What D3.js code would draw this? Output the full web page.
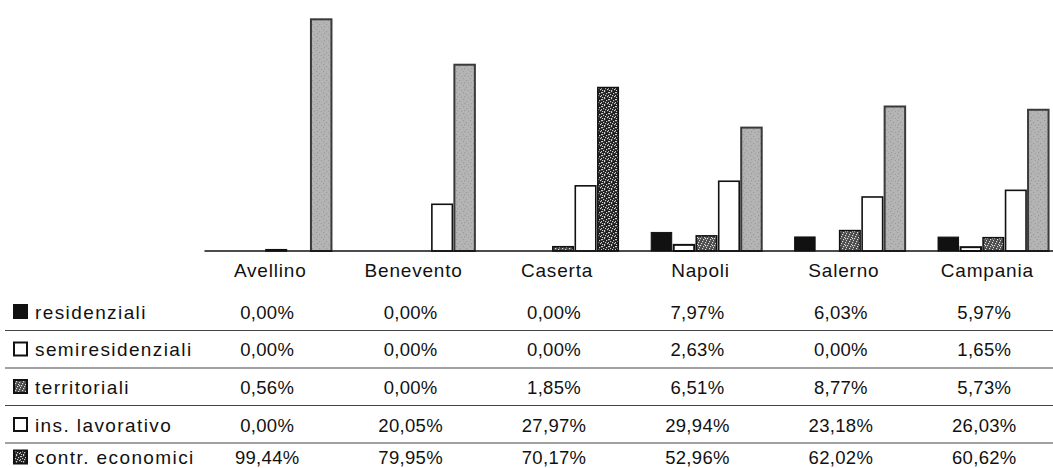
<!DOCTYPE html>
<html>
<head>
<meta charset="utf-8">
<script src="https://cdn.jsdelivr.net/npm/d3@7"></script>
<style>
  html, body { margin: 0; padding: 0; background: #fff; }
  svg { display: block; }
  text { font-family: "Liberation Sans", Arial, Helvetica, sans-serif; fill: #111; }
</style>
</head>
<body>
<svg id="chart" width="1053" height="468"></svg>
<script>
// ---- data ----
const categories = ["Avellino", "Benevento", "Caserta", "Napoli", "Salerno", "Campania"];
const seriesNames = ["residenziali", "semiresidenziali", "territoriali", "ins. lavorativo", "contr. economici"];
const residenziali     = [0.00, 0.00, 0.00, 7.97, 6.03, 5.97];
const semiresidenziali = [0.00, 0.00, 0.00, 2.63, 0.00, 1.65];
const territoriali     = [0.56, 0.00, 1.85, 6.51, 8.77, 5.73];
const insLavorativo    = [0.00, 20.05, 27.97, 29.94, 23.18, 26.03];
const contrEconomici   = [99.44, 79.95, 70.17, 52.96, 62.02, 60.62];
const yDomain = [0, 100];

const seriesValues = [residenziali, semiresidenziali, territoriali, insLavorativo, contrEconomici];

// ---- styles ----
const W = 1053, H = 468;
const svg = d3.select("#chart");
const defs = svg.append("defs");

function speckle(id, bg, dots, dotColor) {
  const p = defs.append("pattern").attr("id", id).attr("patternUnits", "userSpaceOnUse")
    .attr("width", 7).attr("height", 7);
  p.append("rect").attr("width", 7).attr("height", 7).attr("fill", bg);
  dots.forEach(d => p.append("rect").attr("x", d[0]).attr("y", d[1]).attr("width", 1.2).attr("height", 1.2).attr("fill", dotColor));
}
speckle("terr", "#4a4a4a", [[0,0],[3,1],[5,4],[1,5],[4,6],[6,2],[2,3],[5,0]], "#dcdcdc");
speckle("darkcontr", "#1e1e1e", [[0,1],[2,0],[4,2],[6,1],[1,3],[3,4],[5,5],[0,6],[2,6],[6,4]], "#cfcfcf");
speckle("gray", "#b4b4b4", [[1,1],[4,3],[2,5],[6,6]], "#9a9a9a");

const seriesStyle = {
  "residenziali":     { fill: "#111", stroke: "#111", sw: 1 },
  "semiresidenziali": { fill: "#fff", stroke: "#111", sw: 2 },
  "territoriali":     { fill: "url(#terr)", stroke: "#111", sw: 1.5 },
  "ins. lavorativo":  { fill: "#fff", stroke: "#111", sw: 1.6 },
  "contr. economici": { fill: "url(#gray)", stroke: "#3a3a3a", sw: 2 }
};
const overrides = { "Caserta|contr. economici": { fill: "url(#darkcontr)", stroke: "#111", sw: 1.5 } };
const swatchFill = {
  "residenziali": "#111", "semiresidenziali": "#fff", "territoriali": "url(#terr)",
  "ins. lavorativo": "#fff", "contr. economici": "url(#darkcontr)"
};

// ---- scales ----
const x0 = d3.scaleBand().domain(categories).range([204.5, 1065]).paddingInner(0.2155).paddingOuter(0.1077);
const x1 = d3.scaleBand().domain(seriesNames).range([0, x0.bandwidth()]);
const y = d3.scaleLinear().domain(yDomain).range([251, 18]);

// ---- bars ----
const barData = [];
categories.forEach((c, i) => seriesNames.forEach((s, j) => barData.push({ c, s, v: seriesValues[j][i] })));

const g = svg.append("g");
g.selectAll("rect.bar").data(barData.filter(d => d.v > 0)).join("rect")
  .attr("class", "bar")
  .attr("x", d => x0(d.c) + x1(d.s) + 1)
  .attr("width", x1.bandwidth() - 2)
  .attr("y", d => y(d.v))
  .attr("height", d => y(0) - y(d.v))
  .attr("fill", d => (overrides[d.c + "|" + d.s] || seriesStyle[d.s]).fill)
  .attr("stroke", d => (overrides[d.c + "|" + d.s] || seriesStyle[d.s]).stroke)
  .attr("stroke-width", d => (overrides[d.c + "|" + d.s] || seriesStyle[d.s]).sw);

// axis baseline
const xAxis = d3.axisBottom(x0).tickSize(0).tickPadding(12);
const ax = svg.append("g").attr("transform", `translate(0,${y(0)})`).call(xAxis);
ax.select(".domain").attr("d", `M204.5,0H${W}`).attr("stroke", "#111").attr("stroke-width", 1.5);
ax.selectAll(".tick text")
  .attr("x", -6)
  .attr("y", 26)
  .attr("dy", 0)
  .style("font-size", "19px")
  .style("letter-spacing", "0.8px")
  .style("font-family", "'Liberation Sans', Arial, sans-serif")
  .attr("fill", "#111");

// ---- data table ----
const fmt = v => d3.format(".2f")(v).replace(".", ",") + "%";
const rowBase = [318.5, 356, 393.5, 431.5, 464];
const lineY = [330.5, 368, 405.5, 443];

svg.selectAll("line.sep").data(lineY).join("line")
  .attr("class", "sep")
  .attr("x1", 5).attr("x2", W)
  .attr("y1", d => d).attr("y2", d => d)
  .attr("stroke", "#444").attr("stroke-width", 1.2);

seriesNames.forEach((s, j) => {
  const row = svg.append("g");
  row.append("rect")
    .attr("x", 14).attr("y", rowBase[j] - 13.5).attr("width", 13).attr("height", 13)
    .attr("fill", swatchFill[s]).attr("stroke", "#111").attr("stroke-width", 2);
  row.append("text").attr("x", 35).attr("y", rowBase[j])
    .style("font-size", "19px").style("letter-spacing", "1.4px").text(s);
  row.selectAll("text.val").data(categories).join("text")
    .attr("class", "val")
    .attr("x", c => x0(c) + x0.bandwidth() / 2 - 9)
    .attr("y", rowBase[j])
    .attr("text-anchor", "middle")
    .style("font-size", "18.5px")
    .style("letter-spacing", "0.3px")
    .text((c, i) => fmt(seriesValues[j][i]));
});
</script>
</body>
</html>
